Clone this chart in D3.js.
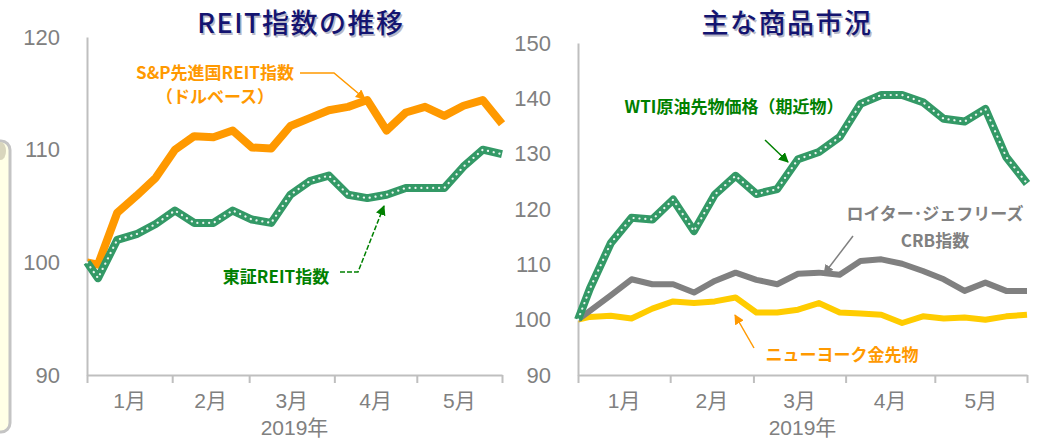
<!DOCTYPE html>
<html>
<head>
<meta charset="utf-8">
<script src="https://cdn.jsdelivr.net/npm/d3@7"></script>
<style>
  body { margin: 0; background: #fff; }
  svg { display: block; font-family: "Liberation Sans", "Noto Sans CJK JP", sans-serif; }
  .axis path, .axis line { stroke: #bfbfbf; stroke-width: 2; }
  .axis text { fill: #808080; font-size: 22px; font-family: "Liberation Sans", sans-serif; }
  .note { font-family: "Noto Sans CJK JP", sans-serif; font-weight: 700; font-size: 17px; }
</style>
</head>
<body>
<svg id="chart" width="1042" height="441"></svg>
<script>
// weekly dates (Fridays) from the end of 2018
const dates = ['2018-12-31','2019-01-04','2019-01-11','2019-01-18','2019-01-25','2019-02-01','2019-02-08',
  '2019-02-15','2019-02-22','2019-03-01','2019-03-08','2019-03-15','2019-03-22','2019-03-29','2019-04-05',
  '2019-04-12','2019-04-19','2019-04-26','2019-05-03','2019-05-10','2019-05-17','2019-05-24','2019-05-31']

const monthEdges = ['2018-12-31','2019-01-31','2019-02-28','2019-03-31','2019-04-30','2019-05-31']
const monthLabels = ['1月','2月','3月','4月','5月']
const yearLabel = '2019年'

// left chart: REIT
const spReit = [100, 99.8, 104.4, 105.9, 107.5, 110.0, 111.2, 111.1, 111.7, 110.2, 110.1, 112.1, 112.8,
  113.5, 113.8, 114.4, 111.7, 113.3, 113.8, 113.0, 113.9, 114.4, 112.3]
const tseReit = [100, 98.6, 102.0, 102.5, 103.4, 104.6, 103.5, 103.5, 104.6, 103.8, 103.5, 106.0, 107.2,
  107.7, 106.0, 105.7, 106.0, 106.6, 106.6, 106.6, 108.5, 110.0, 109.6]
const leftTicks = [90, 100, 110, 120]

// right chart: commodities
const wti = [100, 105.6, 113.8, 118.4, 118.1, 121.7, 116.0, 122.6, 126.0, 122.7, 123.6, 129.0, 130.3,
  133.0, 139.0, 140.6, 140.6, 139.3, 136.3, 135.8, 138.1, 129.4, 124.6]
const crb = [100, 101.6, 104.4, 107.3, 106.4, 106.4, 104.9, 107.0, 108.5, 107.2, 106.4, 108.3, 108.5,
  108.1, 110.6, 110.9, 110.1, 108.8, 107.3, 105.2, 106.7, 105.2, 105.2]
const gold = [100, 100.5, 100.7, 100.2, 102.0, 103.3, 103.0, 103.3, 104.0, 101.3, 101.3, 101.8, 103.0,
  101.3, 101.1, 100.9, 99.4, 100.6, 100.2, 100.4, 100.0, 100.6, 100.9]
const rightTicks = [90, 100, 110, 120, 130, 140, 150]

const parse = d3.timeParse('%Y-%m-%d')
const days = dates.map(parse)
const edges = monthEdges.map(parse)

const svg = d3.select('#chart')

// decorative side panel cut off at the left edge
svg.append('rect').attr('x', -20).attr('y', 141).attr('width', 30).attr('height', 291)
  .attr('rx', 9).attr('fill', '#ffffe6').attr('stroke', '#c4c4c4').attr('stroke-width', 3)
svg.append('ellipse').attr('cx', 1).attr('cy', 151).attr('rx', 5).attr('ry', 9).attr('fill', '#d9d6bd')

const title = (text, cx) => {
  const g = svg.append('g').attr('font-family', '"Noto Sans CJK JP", sans-serif')
    .attr('font-size', 27).attr('font-weight', 500).attr('letter-spacing', '1.5px')
    .attr('text-anchor', 'middle')
  g.append('text').attr('x', cx + 1.5).attr('y', 34.5).attr('fill', '#b8b8c8').text(text)
  g.append('text').attr('x', cx).attr('y', 33).attr('fill', '#141470').text(text)
}

const drawPanel = (x, y, ticks) => {
  svg.append('g').attr('class', 'axis')
    .attr('transform', 'translate(' + x.range()[0] + ',0)')
    .call(d3.axisLeft(y).tickValues(ticks).tickSize(0).tickSizeOuter(0).tickPadding(27))

  svg.append('g').attr('class', 'axis')
    .attr('transform', 'translate(0,' + y.range()[0] + ')')
    .call(d3.axisBottom(x).tickValues(edges).tickFormat('').tickSize(8).tickSizeOuter(0))

  svg.append('g').selectAll('text').data(monthLabels).enter().append('text')
    .attr('x', (d, i) => (x(edges[i]) + x(edges[i + 1])) / 2)
    .attr('y', 408)
    .attr('text-anchor', 'middle').attr('fill', '#808080').attr('font-size', 21)
    .text(d => d)

  svg.append('text')
    .attr('x', (x.range()[0] + x.range()[1]) / 2).attr('y', 435)
    .attr('text-anchor', 'middle').attr('fill', '#808080').attr('font-size', 21)
    .text(yearLabel)
}

const drawLine = (x, y, values, color, width, dotted) => {
  const line = d3.line().x((d, i) => x(days[i])).y(d => y(d))
  svg.append('path').datum(values).attr('d', line)
    .attr('fill', 'none').attr('stroke', color).attr('stroke-width', width)
    .attr('stroke-linejoin', 'round')
  if (dotted) {
    svg.append('path').datum(values).attr('d', line)
      .attr('fill', 'none').attr('stroke', '#fff').attr('stroke-width', 2.2)
      .attr('stroke-linecap', 'round').attr('stroke-dasharray', '0.1 5.8').attr('opacity', 0.9)
  }
}

// arrow markers
const defs = svg.append('defs')
;[['orange', '#ff9900'], ['green', '#008000'], ['gray', '#808080']].forEach(([id, c]) => {
  defs.append('marker').attr('id', 'arr-' + id).attr('viewBox', '0 0 10 10')
    .attr('refX', 9).attr('refY', 5).attr('markerWidth', 10).attr('markerHeight', 10)
    .attr('markerUnits', 'userSpaceOnUse').attr('orient', 'auto')
    .append('path').attr('d', 'M0,0 L10,5 L0,10 z').attr('fill', c)
})

const leader = (pts, color, id, dash) => {
  svg.append('path').attr('d', d3.line()(pts))
    .attr('fill', 'none').attr('stroke', color).attr('stroke-width', 1.5)
    .attr('stroke-dasharray', dash || null)
    .attr('marker-end', 'url(#arr-' + id + ')')
}

const note = (text, x, y, color, anchor) => {
  svg.append('text').attr('class', 'note').attr('x', x).attr('y', y)
    .attr('fill', color).attr('text-anchor', anchor || 'start').text(text)
}

// ----- left panel
const xL = d3.scaleTime().domain([edges[0], edges[5]]).range([87, 502])
const yL = d3.scaleLinear().domain([90, 120]).range([375, 37])
title('REIT指数の推移', 301)
drawPanel(xL, yL, leftTicks)
drawLine(xL, yL, spReit, '#ff9900', 8, false)
drawLine(xL, yL, tseReit, '#339966', 8, true)

note('S&P先進国REIT指数', 215, 79, '#ff9900', 'middle')
note('（ドルベース）', 215, 103, '#ff9900', 'middle')
leader([[300, 73], [334, 73], [365, 99]], '#ff9900', 'orange')
note('東証REIT指数', 276, 283, '#008000', 'middle')
leader([[340, 272], [358, 272], [384, 206]], '#008000', 'green', '5 2')

// ----- right panel
const xR = d3.scaleTime().domain([edges[0], edges[5]]).range([578, 1027])
const yR = d3.scaleLinear().domain([90, 150]).range([375, 43])
title('主な商品市況', 787)
drawPanel(xR, yR, rightTicks)
drawLine(xR, yR, gold, '#ffcc00', 6, false)
drawLine(xR, yR, crb, '#808080', 6, false)
drawLine(xR, yR, wti, '#339966', 8, true)

note('WTI原油先物価格（期近物）', 734, 113, '#008000', 'middle')
leader([[765, 140], [788, 162]], '#008000', 'green')
note('ロイター･ジェフリーズ', 935, 220, '#808080', 'middle')
note('CRB指数', 935, 247, '#808080', 'middle')
leader([[853, 236], [824, 274]], '#808080', 'gray')
note('ニューヨーク金先物', 842, 361, '#ff9900', 'middle')
leader([[754, 348], [735, 315]], '#ff9900', 'orange')
</script>
</body>
</html>
